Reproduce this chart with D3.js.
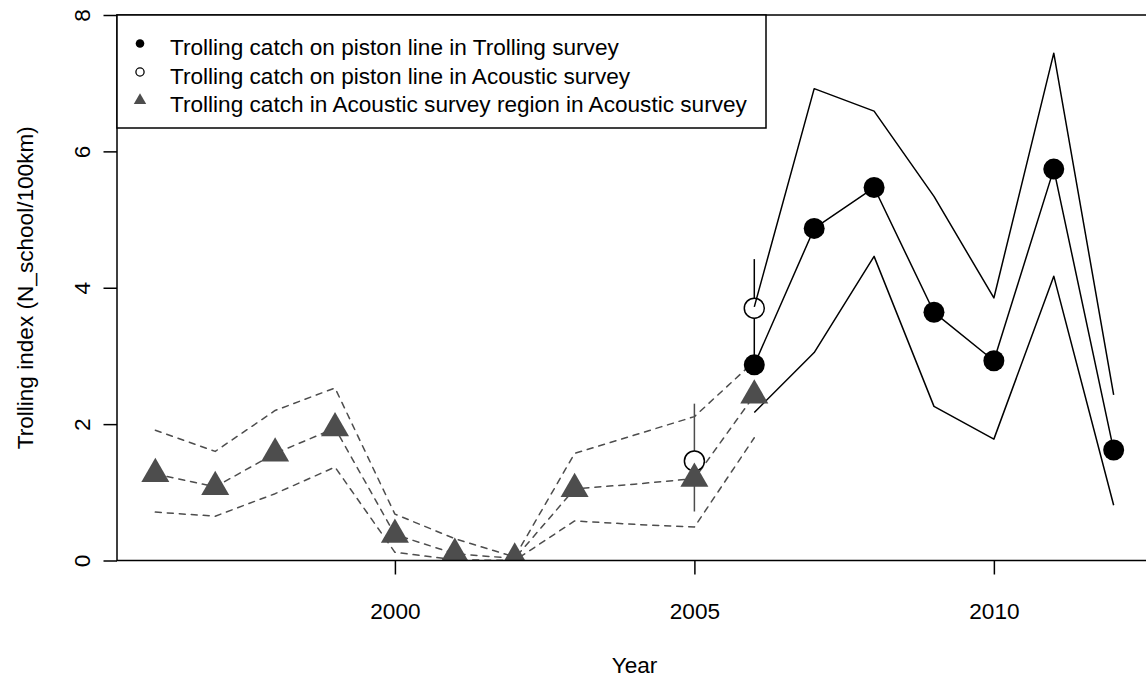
<!DOCTYPE html>
<html>
<head>
<meta charset="utf-8">
<script src="https://cdn.jsdelivr.net/npm/d3@7"></script>
<style>
  html, body { margin: 0; padding: 0; background: #fff; }
  svg { display: block; font-family: "Liberation Sans", Arial, sans-serif; }
</style>
</head>
<body>
<svg id="chart" width="1146" height="677"></svg>
<script>
// Trolling catch in the Acoustic survey region (Acoustic survey): mean and CI bands
const regionYears = [1996, 1997, 1998, 1999, 2000, 2001, 2002, 2003, 2004, 2005, 2006];
const regionMean  = [1.27, 1.08, 1.57, 1.94, 0.38, 0.10, 0.03, 1.05, 1.12, 1.20, 2.42];
const regionUpper = [1.91, 1.60, 2.20, 2.53, 0.68, 0.32, 0.05, 1.57, 1.84, 2.11, 2.92];
const regionLower = [0.71, 0.65, 0.98, 1.37, 0.12, 0.01, 0.00, 0.58, 0.53, 0.49, 1.80];
// years with a marker (2004 has no estimate of its own)
const regionPointYears = [1996, 1997, 1998, 1999, 2000, 2001, 2002, 2003, 2005, 2006];

// Trolling catch on piston line in Acoustic survey
const acousticYears = [2005, 2006];
const acousticMean  = [1.46, 3.70];
const acousticUpper = [2.30, 4.42];
const acousticLower = [0.72, 2.95];
const acousticBarColor = ["#4d4d4d", "#000000"];

// Trolling catch on piston line in Trolling survey
const trollYears = [2006, 2007, 2008, 2009, 2010, 2011, 2012];
const trollMean  = [2.87, 4.87, 5.47, 3.64, 2.93, 5.74, 1.62];
const trollUpper = [3.72, 6.92, 6.59, 5.34, 3.85, 7.44, 2.43];
const trollLower = [2.17, 3.05, 4.46, 2.26, 1.78, 4.17, 0.81];

const yTicks = [0, 2, 4, 6, 8];
const xTicks = [2000, 2005, 2010];
const legendLabels = [
  "Trolling catch on piston line in Trolling survey",
  "Trolling catch on piston line in Acoustic survey",
  "Trolling catch in Acoustic survey region in Acoustic survey"
];

const FONT = 22.6;
const GREY = "#4d4d4d";
const svg = d3.select("#chart");

const pLeft = 117, pRight = 1152, pTop = 15, pBottom = 560.5;
const x = d3.scaleLinear().domain([1995.36, 2012.64]).range([pLeft, pRight]);
const y = d3.scaleLinear().domain([0, 8]).range([pBottom, pTop]);

svg.append("defs").append("clipPath").attr("id", "plotclip")
  .append("rect").attr("x", pLeft).attr("y", pTop)
  .attr("width", pRight - pLeft).attr("height", pBottom - pTop);

const plot = svg.append("g").attr("clip-path", "url(#plotclip)");

const zip = (xs, ys) => xs.map((d, i) => [d, ys[i]]);
const line = d3.line().x(d => x(d[0])).y(d => y(d[1]));

// dashed mean and CI lines for the Acoustic survey region
[regionUpper, regionMean, regionLower].forEach(vals => {
  plot.append("path")
    .attr("d", line(zip(regionYears, vals)))
    .attr("fill", "none").attr("stroke", GREY).attr("stroke-width", 1.5)
    .attr("stroke-dasharray", "6,6").attr("stroke-linecap", "round")
    .attr("stroke-linejoin", "round");
});

// vertical CI bars of the Acoustic survey piston line
plot.selectAll("line.bar").data(acousticYears).enter().append("line")
  .attr("x1", d => x(d)).attr("x2", d => x(d))
  .attr("y1", (d, i) => y(acousticUpper[i])).attr("y2", (d, i) => y(acousticLower[i]))
  .attr("stroke", (d, i) => acousticBarColor[i]).attr("stroke-width", 1.5);

// open circles
plot.selectAll("circle.open").data(acousticYears).enter().append("circle")
  .attr("cx", d => x(d)).attr("cy", (d, i) => y(acousticMean[i]))
  .attr("r", 10).attr("fill", "#fff").attr("stroke", "#000").attr("stroke-width", 1.5);

// solid lines of the Trolling survey
[trollUpper, trollMean, trollLower].forEach(vals => {
  plot.append("path")
    .attr("d", line(zip(trollYears, vals)))
    .attr("fill", "none").attr("stroke", "#000").attr("stroke-width", 1.5)
    .attr("stroke-linejoin", "round");
});

// filled dots
plot.selectAll("circle.solid").data(trollYears).enter().append("circle")
  .attr("cx", d => x(d)).attr("cy", (d, i) => y(trollMean[i]))
  .attr("r", 10.5).attr("fill", "#000");

// triangles
const triPlot = d3.symbol().type(d3.symbolTriangle).size(340);
plot.selectAll("path.tri").data(regionPointYears).enter().append("path")
  .attr("d", triPlot)
  .attr("transform", d => `translate(${x(d)},${y(regionMean[regionYears.indexOf(d)])})`)
  .attr("fill", GREY);

// plot frame
svg.append("rect").attr("x", pLeft).attr("y", pTop)
  .attr("width", pRight - pLeft).attr("height", pBottom - pTop)
  .attr("fill", "none").attr("stroke", "#000").attr("stroke-width", 1.5);

// y axis
const yAxis = svg.append("g").attr("transform", `translate(${pLeft},0)`)
  .call(d3.axisLeft(y).tickValues(yTicks).tickSize(13.5).tickSizeOuter(0).tickFormat(d3.format("d")));
yAxis.select(".domain").remove();
yAxis.selectAll(".tick line").attr("stroke", "#000").attr("stroke-width", 1.5);
yAxis.selectAll(".tick text")
  .attr("transform", "rotate(-90)").attr("x", 0).attr("y", -27).attr("dy", 0)
  .attr("text-anchor", "middle").attr("font-size", FONT)
  .attr("font-family", "Liberation Sans, Arial, sans-serif").attr("fill", "#000");

// x axis
const xAxis = svg.append("g").attr("transform", `translate(0,${pBottom})`)
  .call(d3.axisBottom(x).tickValues(xTicks).tickSize(14).tickSizeOuter(0).tickFormat(d3.format("d")));
xAxis.select(".domain").remove();
xAxis.selectAll(".tick line").attr("stroke", "#000").attr("stroke-width", 1.5);
xAxis.selectAll(".tick text")
  .attr("y", 58.5).attr("dy", 0).attr("font-size", FONT)
  .attr("font-family", "Liberation Sans, Arial, sans-serif").attr("fill", "#000");

// axis titles
svg.append("text").attr("transform", `translate(33,${(pTop + pBottom) / 2}) rotate(-90)`)
  .attr("text-anchor", "middle").attr("font-size", FONT)
  .text("Trolling index (N_school/100km)");
svg.append("text").attr("x", (pLeft + pRight) / 2).attr("y", 673)
  .attr("text-anchor", "middle").attr("font-size", FONT).text("Year");

// legend
const legend = svg.append("g");
legend.append("rect").attr("x", pLeft).attr("y", pTop).attr("width", 766 - pLeft).attr("height", 128 - pTop)
  .attr("fill", "#fff").attr("stroke", "#000").attr("stroke-width", 1.5);
const rowY = i => 43.5 + 28.5 * i;
legend.append("circle").attr("cx", 140).attr("cy", rowY(0)).attr("r", 4.3).attr("fill", "#000");
legend.append("circle").attr("cx", 140).attr("cy", rowY(1)).attr("r", 4.1)
  .attr("fill", "none").attr("stroke", "#000").attr("stroke-width", 1.3);
legend.append("path").attr("d", d3.symbol().type(d3.symbolTriangle).size(67)())
  .attr("transform", `translate(140,${rowY(2)})`).attr("fill", GREY);
legend.selectAll("text").data(legendLabels).enter().append("text")
  .attr("x", 170).attr("y", (d, i) => rowY(i) + 11.5)
  .attr("font-size", FONT).attr("fill", "#000").text(d => d);
</script>
</body>
</html>
